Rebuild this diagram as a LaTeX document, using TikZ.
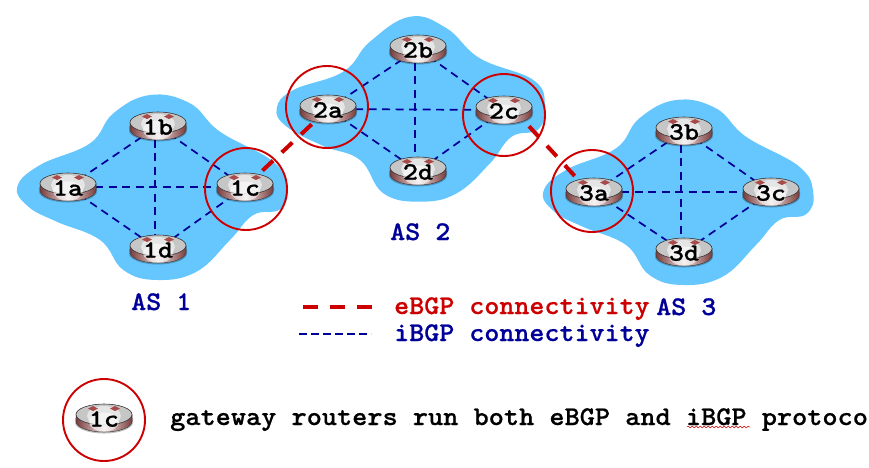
\documentclass[tikz,border=0pt]{standalone}
\usepackage{fontspec}
\setmonofont[BoldFont={LMMonoLt10-Bold},BoldFeatures={FakeBold=0.6}]{Latin Modern Mono}
\usetikzlibrary{decorations.pathmorphing}
\pgfdeclarelayer{blobs}
\pgfdeclarelayer{links}
\pgfsetlayers{blobs,links,main}
\definecolor{asblue}{HTML}{66C7FF}
\definecolor{ibgp}{HTML}{000099}
\definecolor{ebgp}{HTML}{CC0000}
\definecolor{rimdark}{HTML}{7C3B3B}
\definecolor{topgray}{HTML}{C6C6C6}
\definecolor{arrowred}{HTML}{A84A4A}
\tikzset{
  blob/.style={fill=asblue,draw=none},
  ilink/.style={draw=ibgp,line width=1.7pt,dash pattern=on 8pt off 5.5pt},
  elink/.style={draw=ebgp,line width=4pt,dash pattern=on 14.5pt off 12pt},
  gate/.style={draw=ebgp,line width=1.9pt,fill=none,circle,inner sep=0pt,minimum size=82pt},
  routerbox/.style={inner sep=0pt,minimum width=56pt,minimum height=28pt},
  rlabel/.style={font=\fontsize{25}{25}\selectfont\ttfamily\bfseries,text=black,inner sep=0pt,xscale=1.15},
  aslabel/.style={font=\fontsize{27}{27}\selectfont\ttfamily\bfseries,text=ibgp,anchor=base west,inner sep=0pt,xscale=1.06},
}
\newcommand{\routerdraw}[2]{%
  \begin{scope}[shift={(#1,#2)}]
    \fill[black,opacity=.25] (-29,0) -- (-29,4.5) .. controls (-29,10.5) and (-16,15.5) .. (0,15.5) .. controls (16,15.5) and (29,10.5) .. (29,4.5) -- (29,0) -- cycle;
    \path[left color=rimdark,right color=rimdark,middle color=white!85!rimdark,draw=black!75,line width=.5pt]
      (-28,-3.5) -- (-28,3.5) .. controls (-28,9.3) and (-15.5,14) .. (0,14) .. controls (15.5,14) and (28,9.3) .. (28,3.5) -- (28,-3.5) -- cycle;
    \fill[topgray,draw=black!80,line width=.6pt] (0,-3.5) ellipse[x radius=28,y radius=10.5];
    \fill[white,opacity=.55] (0,-2) ellipse[x radius=17,y radius=10];
    \fill[white,opacity=.55] (0,4) ellipse[x radius=15,y radius=9.5];
    \fill[arrowred] (-16,-9.5) -- (-11,-12) -- (-6,-9.5) -- (-11,-7) -- cycle;
    \fill[arrowred] (6,-9.5) -- (11,-12) -- (16,-9.5) -- (11,-7) -- cycle;
  \end{scope}}
\newcommand{\routernode}[4]{\routerdraw{#1}{#2}\node[routerbox] (r#3) at (#1,#2) {};\node[rlabel] (l#3) at (#1,#2+1) {#4};}
\begin{document}
\begin{tikzpicture}[x=1pt,y=-1pt]
\useasboundingbox (0,0) rectangle (869,467);
\begin{pgfonlayer}{blobs}
  \fill[white] (0,0) rectangle (869,467);
  \begin{scope}[shift={(0,90)},x=.3333pt,y=-.3333pt]
    \fill[blob] plot[smooth cycle,tension=.7] coordinates {(52,290)(120,225)(270,160)(340,70)(450,15)(570,40)(660,125)(820,215)(862,295)(840,358)(760,375)(690,450)(590,545)(470,570)(370,540)(300,450)(170,395)(85,350)};
  \end{scope}
  \begin{scope}[shift={(526,95)},x=.3333pt,y=-.3333pt]
    \fill[blob] plot[smooth cycle,tension=.7] coordinates {(52,290)(120,225)(270,160)(340,70)(450,15)(570,40)(660,125)(820,215)(862,295)(840,358)(760,375)(690,450)(590,545)(470,570)(370,540)(300,450)(170,395)(85,350)};
  \end{scope}
  \begin{scope}[shift={(270,10)},x=.3333pt,y=-.3333pt]
    \fill[blob] plot[smooth cycle,tension=.7] coordinates {(20,295)(70,240)(220,185)(300,95)(420,20)(530,55)(630,145)(790,210)(825,285)(805,358)(725,380)(660,460)(560,550)(450,575)(340,550)(270,450)(160,408)(50,350)};
  \end{scope}
\end{pgfonlayer}

\routernode{68}{187}{1a}{1a}
\routernode{158}{126}{1b}{1b}
\routernode{245}{187}{1c}{1c}
\routernode{158}{249}{1d}{1d}
\routernode{328}{109}{2a}{2a}
\routernode{418}{49}{2b}{2b}
\routernode{504}{110}{2c}{2c}
\routernode{418}{171}{2d}{2d}
\routernode{594}{192}{3a}{3a}
\routernode{684}{131}{3b}{3b}
\routernode{771}{192}{3c}{3c}
\routernode{684}{252}{3d}{3d}
\routernode{104}{418}{legend}{1c}

\begin{pgfonlayer}{links}
  \foreach \n in {1,2,3}{
    \draw[ilink] (r\n a.center) -- (r\n b.center);
    \draw[ilink] (r\n a.center) -- (r\n c.center);
    \draw[ilink] (r\n a.center) -- (r\n d.center);
    \draw[ilink] (r\n b.center) -- (r\n c.center);
    \draw[ilink] ([xshift=-3pt]r\n b.center) -- ([xshift=-3pt]r\n d.center);
    \draw[ilink] (r\n c.center) -- (r\n d.center);
  }
  \draw[elink,shorten <=24pt,shorten >=18pt] (r1c.center) -- (r2a.center);
  \draw[elink,shorten <=37pt,shorten >=27pt] ([yshift=11pt]r2c.center) -- ([yshift=-5pt]r3a.center);
\end{pgfonlayer}

\node[gate] (g1c) at (246,189) {};
\node[gate] (g2a) at (327,107) {};
\node[gate] (g2c) at (504,115) {};
\node[gate] (g3a) at (592,191) {};
\node[gate] (g0) at (104,420) {};

\node[aslabel] (as1) at (131,310) {AS 1};
\node[aslabel] (as2) at (390,240) {AS 2};
\node[aslabel] (as3) at (656,315) {AS 3};
\node[aslabel,text=ebgp] (te) at (394,314) {eBGP connectivity};
\node[aslabel] (ti) at (394,341) {iBGP connectivity};
\node[aslabel,text=black,xscale=1.0095] (tg) at (170,425) {gateway routers run both eBGP and iBGP protoco};

\coordinate (e1) at (303,307);
\coordinate (e2) at (373,307);
\coordinate (i1) at (299,334);
\coordinate (i2) at (371,334);
\draw[draw=ebgp,line width=4pt,dash pattern=on 15pt off 12pt] (e1) -- (e2);
\draw[draw=ibgp,line width=1.7pt,dash pattern=on 8pt off 4pt] (i1) -- (i2);
\coordinate (s1) at (687,427);
\coordinate (s2) at (750,427);
\draw[draw=ebgp,line width=.5pt,decorate,decoration={snake,amplitude=.9pt,segment length=4pt}] (s1) -- (s2);
\end{tikzpicture}
\end{document}
